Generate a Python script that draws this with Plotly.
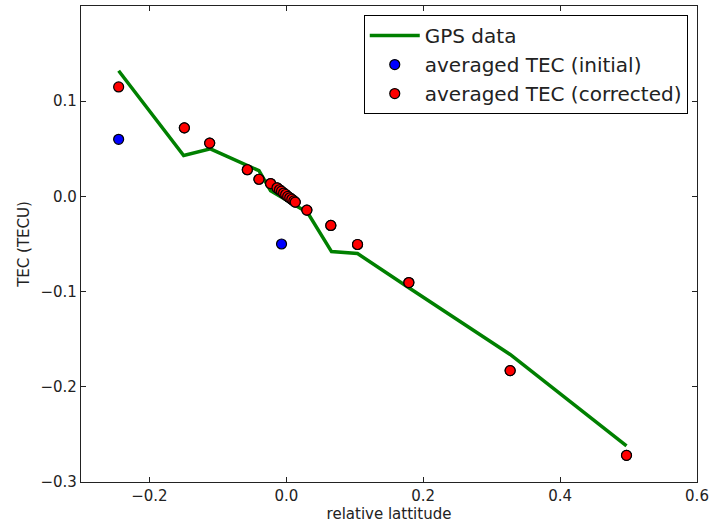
import plotly.graph_objects as go

# GPS data (green line)
gps_x = [-0.245, -0.150, -0.111, -0.040, -0.023, 0.031, 0.066, 0.104, 0.179, 0.327, 0.497]
gps_y = [0.132, 0.043, 0.050, 0.027, 0.006, -0.017, -0.058, -0.060, -0.096, -0.166, -0.262]

# averaged TEC (corrected) - red
corr_x = [-0.245, -0.149, -0.112, -0.057, -0.040, -0.023, -0.0136, -0.010, -0.007, -0.004,
          -0.001, 0.002, 0.005, 0.008, 0.011, 0.013, 0.030, 0.065, 0.104, 0.179, 0.327, 0.497]
corr_y = [0.115, 0.072, 0.056, 0.028, 0.018, 0.0135, 0.009, 0.007, 0.0055, 0.0035,
          0.002, 0.0, -0.0015, -0.003, -0.0047, -0.006, -0.0144, -0.0305, -0.0505, -0.0905, -0.183, -0.272]

# averaged TEC (initial) - blue (mostly hidden under the corrected points)
init_x = [-0.245, -0.149, -0.112, -0.057, -0.040, -0.023, -0.0136, -0.010, -0.007, -0.004,
          -0.001, 0.002, 0.005, 0.008, 0.011, 0.013, 0.030, 0.065, 0.104, 0.179, 0.327, 0.497]
init_y = [0.060, 0.072, 0.056, 0.028, 0.018, 0.0135, 0.009, 0.007, -0.050, 0.0035,
          0.002, 0.0, -0.0015, -0.003, -0.0047, -0.006, -0.0144, -0.0305, -0.0505, -0.0905, -0.183, -0.272]

x_ticks = [-0.2, 0.0, 0.2, 0.4, 0.6]
y_ticks = [-0.3, -0.2, -0.1, 0.0, 0.1]

FONT = "DejaVu Sans"
TXT = "#222222"

fig = go.Figure()
fig.add_trace(go.Scatter(x=gps_x, y=gps_y, mode="lines", name="GPS data", legendgroup="a",
                         line=dict(color="#008000", width=3.5)))
fig.add_trace(go.Scatter(x=init_x, y=init_y, mode="markers", name="averaged TEC (initial)",
                         legendgroup="b",
                         marker=dict(color="#0000ff", size=10, line=dict(color="black", width=1.2))))
fig.add_trace(go.Scatter(x=corr_x, y=corr_y, mode="markers", name="averaged TEC (corrected)",
                         legendgroup="c",
                         marker=dict(color="#ff0000", size=10, line=dict(color="black", width=1.2))))

axis_common = dict(showgrid=False, zeroline=False, showline=True, linecolor=TXT,
                   linewidth=1.2, mirror="ticks", ticks="inside", ticklen=5,
                   tickcolor=TXT, tickfont=dict(family=FONT, size=15, color=TXT),
                   tickformat=".1f", automargin=False)

fig.update_xaxes(range=[-0.3, 0.6], tickvals=x_ticks,
                 title=dict(text="relative lattitude", font=dict(family=FONT, size=15, color=TXT),
                            standoff=2),
                 **axis_common)
fig.update_yaxes(range=[-0.3, 0.2], tickvals=y_ticks,
                 title=dict(text="TEC (TECU)", font=dict(family=FONT, size=15, color=TXT),
                            standoff=7),
                 **axis_common)

fig.update_layout(
    width=709, height=523,
    margin=dict(l=81, r=12, t=6, b=41),
    plot_bgcolor="white", paper_bgcolor="white",
    font=dict(family=FONT, color=TXT),
    showlegend=True,
    legend=dict(x=0.985, y=0.981, xanchor="right", yanchor="top",
                bordercolor="black", borderwidth=1, bgcolor="white",
                font=dict(family=FONT, size=20, color=TXT),
                itemwidth=50, tracegroupgap=0),
)

fig.write_html("out.html", config={"displayModeBar": False},
               post_script="document.body.style.margin='0';")
